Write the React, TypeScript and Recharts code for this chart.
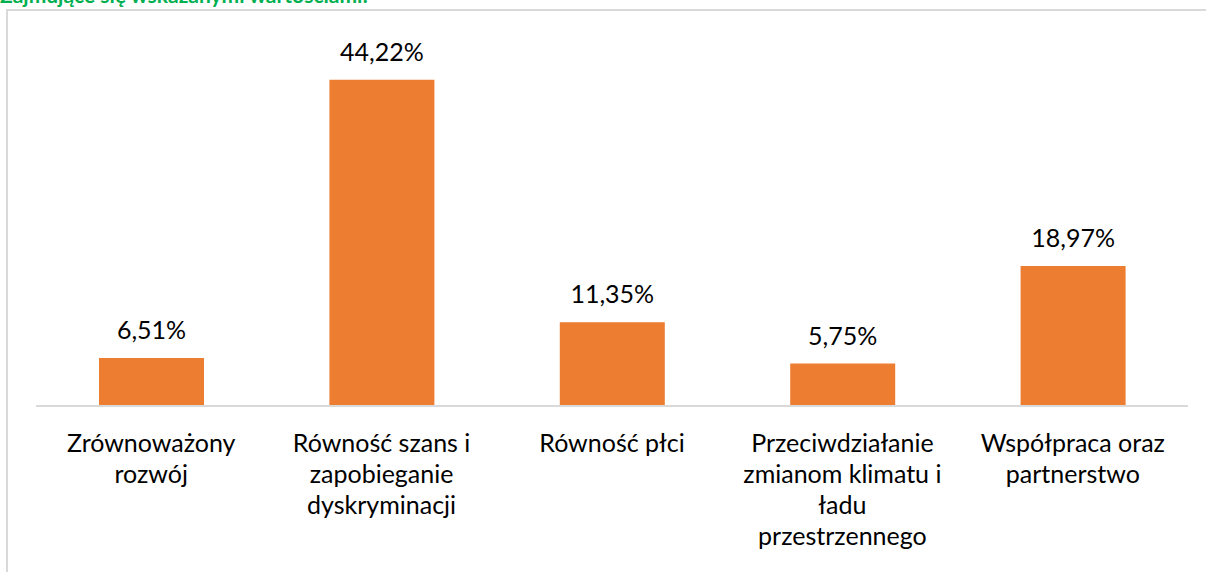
import React from 'react';
import { BarChart, Bar, XAxis, YAxis, LabelList } from 'recharts';

const categories = [
  'Zrównoważony\nrozwój',
  'Równość szans i\nzapobieganie\ndyskryminacji',
  'Równość płci',
  'Przeciwdziałanie\nzmianom klimatu i\nładu\nprzestrzennego',
  'Współpraca oraz\npartnerstwo',
];
const values = [6.51, 44.22, 11.35, 5.75, 18.97];
const titleText = 'Zajmujące się wskazanymi wartościami:';

const data = categories.map((c, i) => ({ name: c, value: values[i] }));

const FONT = 'Lato, "Open Sans", sans-serif';

const CategoryTick = (props: any) => {
  const { x, y, payload } = props;
  const lines = String(payload.value).split('\n');
  return (
    <g transform={`translate(${x},${y})`}>
      {lines.map((l: string, i: number) => (
        <text
          key={i}
          x={0}
          y={38 + i * 31}
          textAnchor="middle"
          fontFamily={FONT}
          fontSize={25}
          fill="#000"
        >
          {l}
        </text>
      ))}
    </g>
  );
};

const fmt = (v: any) => Number(v).toFixed(2).replace('.', ',') + '%';

export default function App() {
  return (
    <div
      style={{
        position: 'fixed',
        left: 0,
        top: 0,
        width: 1206,
        height: 572,
        overflow: 'hidden',
        background: '#fff',
      }}
    >
      <div
        style={{
          position: 'absolute',
          left: 0,
          top: -16,
          fontFamily: FONT,
          fontWeight: 700,
          fontSize: 21,
          lineHeight: 1,
          color: '#00B050',
          whiteSpace: 'nowrap',
        }}
      >
        {titleText}
      </div>
      <div
        style={{
          position: 'absolute',
          left: 6,
          top: 9,
          width: 1300,
          height: 700,
          border: '2px solid #d9d9d9',
          boxSizing: 'border-box',
        }}
      />
      <div style={{ position: 'absolute', left: 0, top: 0 }}>
        <BarChart
          width={1206}
          height={572}
          data={data}
          margin={{ top: 37, right: 18, left: 36, bottom: 0 }}
        >
          <YAxis hide domain={[0, 50]} />
          <XAxis
            dataKey="name"
            axisLine={{ stroke: '#d9d9d9', strokeWidth: 2 }}
            tickLine={false}
            tick={<CategoryTick />}
            interval={0}
            height={166}
          />
          <Bar dataKey="value" fill="#ED7D31" barSize={105} isAnimationActive={false}>
            <LabelList
              dataKey="value"
              position="top"
              offset={19}
              formatter={fmt}
              fontFamily={FONT}
              fontSize={25}
              fill="#000"
            />
          </Bar>
        </BarChart>
      </div>
    </div>
  );
}
